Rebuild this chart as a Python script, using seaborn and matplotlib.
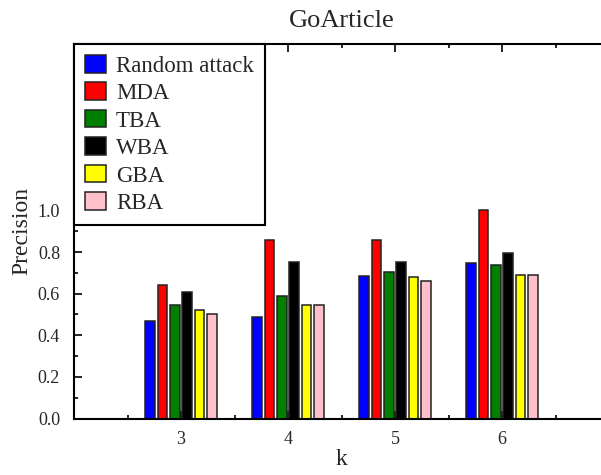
import matplotlib
matplotlib.use("Agg")
import matplotlib.pyplot as plt
import seaborn as sns
import pandas as pd
from matplotlib.ticker import MultipleLocator

k_values = [3, 4, 5, 6]
methods = ["Random attack", "MDA", "TBA", "WBA", "GBA", "RBA"]
random_attack = [0.467, 0.489, 0.685, 0.749]
mda = [0.642, 0.857, 0.857, 1.000]
tba = [0.544, 0.589, 0.703, 0.736]
wba = [0.608, 0.751, 0.754, 0.794]
gba = [0.520, 0.544, 0.682, 0.690]
rba = [0.504, 0.546, 0.660, 0.690]
colors = ["#0000FF", "#FF0000", "#007F00", "#000000", "#FFFF00", "#FFC0CB"]

series = [random_attack, mda, tba, wba, gba, rba]
rows = []
for m, vals in zip(methods, series):
    for k, v in zip(k_values, vals):
        rows.append({"k": k, "method": m, "precision": v})
df = pd.DataFrame(rows)

sns.set_style("ticks")
plt.rcParams["font.family"] = ["Liberation Serif", "DejaVu Serif"]
plt.rcParams["axes.linewidth"] = 1.5

fig = plt.figure(figsize=(6.01, 4.75), dpi=100)
ax = fig.add_axes([74 / 601, 1 - 418.5 / 475, (609 - 74) / 601, (418.5 - 44) / 475])

sns.barplot(data=df, x="k", y="precision", hue="method", hue_order=methods,
            palette=colors, native_scale=True, width=0.69, gap=0.22,
            edgecolor="#222222", linewidth=1.1, saturation=1, ax=ax)

ax.set_xlim(2, 7)
ax.set_ylim(0, 1.8)
ax.set_xticks(k_values)
ax.set_xticklabels([str(k) for k in k_values])
ax.xaxis.set_minor_locator(MultipleLocator(0.5))
ax.set_yticks([0.0, 0.2, 0.4, 0.6, 0.8, 1.0])
ax.set_yticklabels(["0.0", "0.2", "0.4", "0.6", "0.8", "1.0"])
ax.set_yticks([0.1, 0.3, 0.5, 0.7, 0.9], minor=True)

ax.tick_params(axis="both", which="major", direction="in", length=6, width=1.2,
               labelsize=13, top=True, right=False, color="black")
ax.tick_params(axis="both", which="minor", direction="in", length=3, width=1.2,
               top=True, right=False, color="black")
ax.tick_params(axis="x", which="major", pad=9)
ax.tick_params(axis="y", which="major", pad=10)
for s in ax.spines.values():
    s.set_color("black")
    s.set_linewidth(1.5)

ax.set_xlabel("k", fontsize=17, labelpad=1)
ax.set_ylabel("Precision", fontsize=17, labelpad=4)
ax.set_title("GoArticle", fontsize=19, pad=12)

handles, labels = ax.get_legend_handles_labels()
leg = ax.legend(handles, labels, loc="upper left", bbox_to_anchor=(0, 1),
                borderaxespad=0, fontsize=16.5, frameon=True, fancybox=False,
                framealpha=1, edgecolor="black", handlelength=0.9,
                handleheight=0.8, labelspacing=0.25, handletextpad=0.45,
                borderpad=0.48)
leg.get_frame().set_linewidth(1.5)

fig.savefig("out.png", dpi=100)
